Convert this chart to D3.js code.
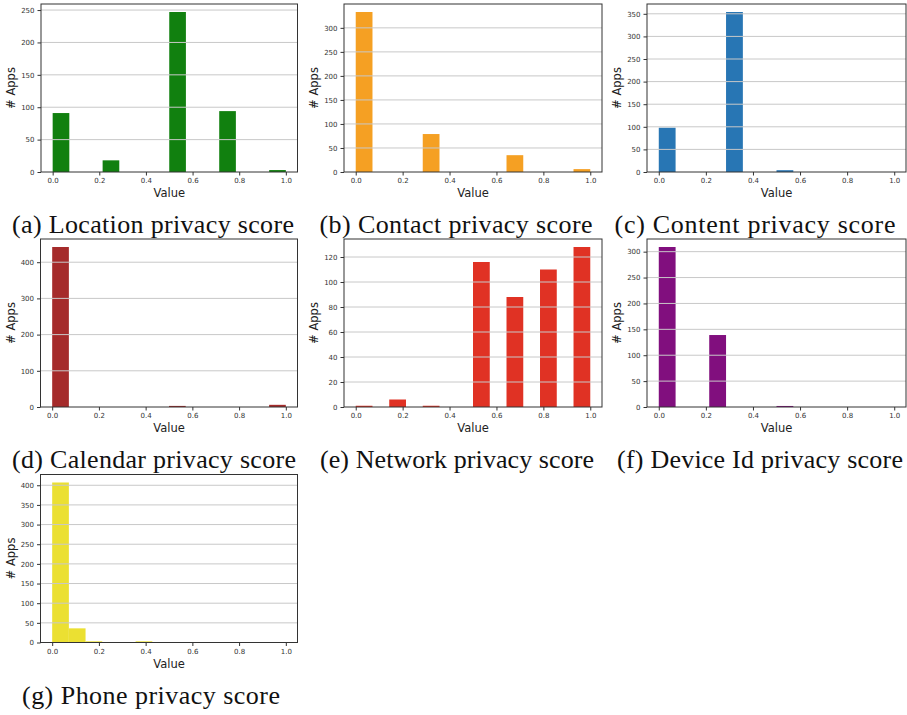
<!DOCTYPE html>
<html>
<head>
<meta charset="utf-8">
<script src="https://cdn.jsdelivr.net/npm/d3@7"></script>
<style>
  body { margin: 0; background: #fff; }
  svg { display: block; }
</style>
</head>
<body>
<div id="chart"></div>
<script>
// histogram counts, 14 equal bins over [0, 1]
var binCount = 14;
var locationCounts = [91, 0, 0, 18, 0, 0, 0, 247, 0, 0, 94, 0, 0, 3];
var contactCounts  = [333, 0, 0, 0, 79, 0, 0, 0, 0, 35, 0, 0, 0, 6];
var contentCounts  = [98, 0, 0, 0, 354, 0, 0, 4, 0, 0, 0, 0, 0, 0];
var calendarCounts = [442, 0, 0, 0, 0, 0, 0, 3, 0, 0, 0, 0, 0, 6];
var networkCounts  = [1, 0, 6, 0, 1, 0, 0, 116, 0, 88, 0, 110, 0, 128];
var deviceIdCounts = [309, 0, 0, 139, 0, 0, 0, 2, 0, 0, 0, 0, 0, 0];
var phoneCounts    = [407, 36, 3, 0, 0, 3, 0, 0, 0, 0, 0, 0, 0, 0];

var xTicks = [0, 0.2, 0.4, 0.6, 0.8, 1.0];
var locationTicks = [0, 50, 100, 150, 200, 250];
var contactTicks  = [0, 50, 100, 150, 200, 250, 300];
var contentTicks  = [0, 50, 100, 150, 200, 250, 300, 350];
var calendarTicks = [0, 100, 200, 300, 400];
var networkTicks  = [0, 20, 40, 60, 80, 100, 120];
var deviceIdTicks = [0, 50, 100, 150, 200, 250, 300];
var phoneTicks    = [0, 50, 100, 150, 200, 250, 300, 350, 400];

var captions = ["(a) Location privacy score", "(b) Contact privacy score",
	"(c) Content privacy score", "(d) Calendar privacy score",
	"(e) Network privacy score", "(f) Device Id privacy score",
	"(g) Phone privacy score"];

var svg = d3.select("#chart")
	.append("svg")
	.attr("width", 907)
	.attr("height", 715);

// one panel: axes box at (left, top), w x 168
function drawPanel(left, top, w, counts, yTicks, color, caption, cap) {
	var h = 168;
	var g = svg.append("g")
		.attr("transform", "translate(" + left + "," + top + ")");

	var ymax = d3.max(counts) * 1.05;
	var x = d3.scaleLinear().domain([-0.05, 1.05]).range([0, w]);
	var y = d3.scaleLinear().domain([0, ymax]).range([h, 0]);

	var bins = counts.map((c, i) => ({x0: i / binCount, x1: (i + 1) / binCount, n: c}));

	g.append("g")
		.selectAll("rect")
		.data(bins.filter(d => d.n > 0))
		.enter()
		.append("rect")
		.attr("x", d => x(d.x0))
		.attr("width", d => x(d.x1) - x(d.x0))
		.attr("y", d => y(d.n))
		.attr("height", d => h - y(d.n))
		.attr("fill", color);

	// grid on top of the bars
	g.append("g")
		.selectAll("line")
		.data(yTicks.filter(t => t > 0))
		.enter()
		.append("line")
		.attr("x1", 0)
		.attr("x2", w)
		.attr("y1", d => y(d))
		.attr("y2", d => y(d))
		.attr("stroke", "#c8c8c8")
		.attr("stroke-width", 1);

	var xAxis = g.append("g")
		.attr("transform", "translate(0," + h + ")")
		.call(d3.axisBottom(x).tickValues(xTicks).tickFormat(d3.format(".1f"))
			.tickSize(3.5).tickPadding(3));
	var yAxis = g.append("g")
		.call(d3.axisLeft(y).tickValues(yTicks).tickFormat(d3.format("d"))
			.tickSize(3.5).tickPadding(3));

	[xAxis, yAxis].forEach(function(a) {
		a.select(".domain").remove();
		a.selectAll("line").attr("stroke", "#333");
		a.selectAll("text")
			.attr("fill", "#333")
			.style("font-family", "DejaVu Sans")
			.style("font-size", "7px");
	});

	g.append("rect")
		.attr("width", w)
		.attr("height", h)
		.attr("fill", "none")
		.attr("stroke", "#333")
		.attr("stroke-width", 1);

	g.append("text")
		.attr("x", w / 2)
		.attr("y", h + 25)
		.attr("text-anchor", "middle")
		.attr("fill", "#222")
		.style("font-family", "DejaVu Sans")
		.style("font-size", "11.5px")
		.text("Value");

	g.append("text")
		.attr("transform", "translate(-30," + (h / 2) + ")rotate(-90)")
		.attr("text-anchor", "middle")
		.attr("dy", "0.35em")
		.attr("fill", "#222")
		.style("font-family", "DejaVu Sans")
		.style("font-size", "11.5px")
		.text("# Apps");

	svg.append("text")
		.attr("x", cap.c)
		.attr("y", top + 229)
		.attr("text-anchor", "middle")
		.attr("textLength", cap.w)
		.attr("lengthAdjust", "spacing")
		.attr("fill", "#111")
		.style("font-family", "Liberation Serif")
		.style("font-size", "26px")
		.text(caption);
}

drawPanel(41, 4, 256.5, locationCounts, locationTicks, "#11800f", captions[0], {c: 153, w: 282});
drawPanel(344, 4, 258, contactCounts, contactTicks, "#f5a023", captions[1], {c: 456, w: 273});
drawPanel(647, 4, 259, contentCounts, contentTicks, "#2876b4", captions[2], {c: 755, w: 281});
drawPanel(40.5, 239, 257, calendarCounts, calendarTicks, "#a52b2b", captions[3], {c: 154, w: 284});
drawPanel(344, 239, 258, networkCounts, networkTicks, "#e03224", captions[4], {c: 457, w: 274});
drawPanel(647, 239, 259, deviceIdCounts, deviceIdTicks, "#810f7e", captions[5], {c: 760, w: 286});
drawPanel(40.5, 474.5, 257, phoneCounts, phoneTicks, "#ebe032", captions[6], {c: 151, w: 258});
</script>
</body>
</html>
